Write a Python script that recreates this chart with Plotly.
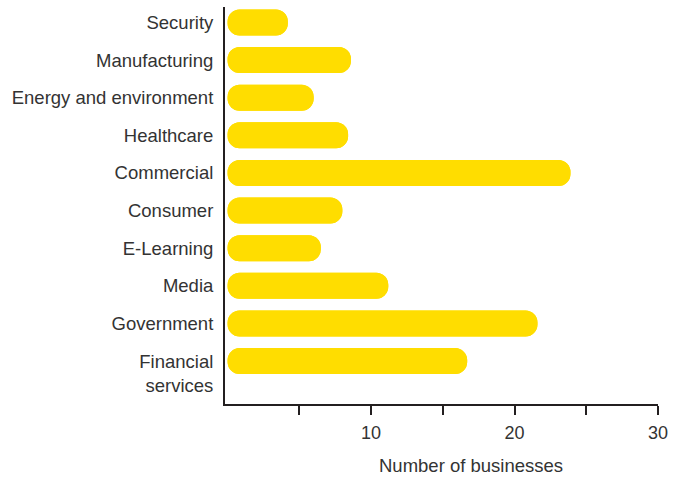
import plotly.graph_objects as go

categories = ["Security", "Manufacturing", "Energy and environment", "Healthcare",
              "Commercial", "Consumer", "E-Learning", "Media", "Government",
              "Financial services"]
category_labels = ["Security", "Manufacturing", "Energy and environment", "Healthcare",
                   "Commercial", "Consumer", "E-Learning", "Media", "Government",
                   "<br>Financial<br>services"]
values = [4.2, 8.6, 6.0, 8.4, 23.9, 8.0, 6.5, 11.2, 21.6, 16.7]
tick_vals = [5, 10, 15, 20, 25, 30]
tick_text = ["", "10", "", "20", "", "30"]
x_title = "Number of businesses"

YELLOW = "#FFDD00"
INK = "#231F20"
TEXT = "#333333"

fig = go.Figure()
# full bar, rounded at its far (right) end
fig.add_trace(go.Bar(
    y=categories, x=values, base=[0] * len(values),
    orientation="h", marker=dict(color=YELLOW, line=dict(width=0), cornerradius=13),
    hoverinfo="skip", showlegend=False))
# same bar drawn from the right end back to 0, rounding the left end
fig.add_trace(go.Bar(
    y=categories, x=[-v for v in values], base=values,
    orientation="h", marker=dict(color=YELLOW, line=dict(width=0), cornerradius=13),
    hoverinfo="skip", showlegend=False))

fig.update_layout(
    width=688, height=477,
    margin=dict(l=225, r=30, t=7, b=73),
    paper_bgcolor="white", plot_bgcolor="white",
    barmode="overlay", bargap=0.31,
    font=dict(family="Liberation Sans, Arial, sans-serif", size=18.5, color=TEXT),
    xaxis=dict(
        range=[-0.18, 30], tickvals=tick_vals, ticktext=tick_text,
        ticks="outside", ticklen=9, tickwidth=2, tickcolor=INK,
        showline=True, linewidth=2, linecolor=INK, showgrid=False, zeroline=False,
        tickfont=dict(size=18, color=TEXT), ticklabelstandoff=2,
    ),
    yaxis=dict(
        categoryorder="array", categoryarray=list(reversed(categories)),
        tickvals=categories, ticktext=category_labels,
        range=[-1.14, 9.41],
        showline=True, linewidth=2, linecolor=INK, showgrid=False, zeroline=False,
        ticks="", ticklabelstandoff=6,
        tickfont=dict(size=18.5, color=TEXT),
    ),
    annotations=[dict(
        text=x_title, xref="paper", yref="paper", x=0.569, y=-0.156,
        xanchor="center", yanchor="middle", showarrow=False,
        font=dict(size=18.5, color=TEXT),
    )],
)

fig.write_html("out.html")
